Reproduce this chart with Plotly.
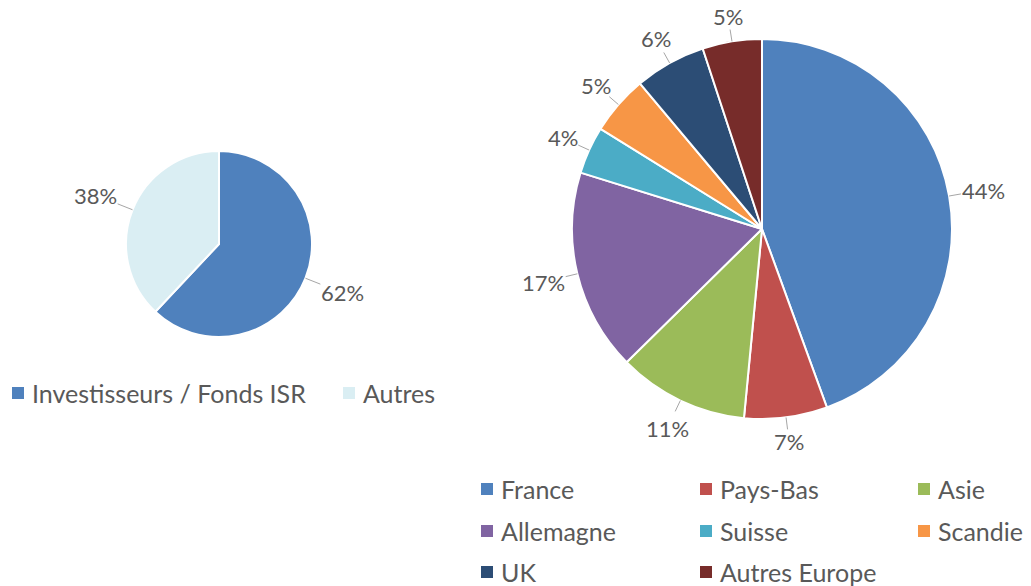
import math
import plotly.graph_objects as go

W, H = 1031, 586

# ---- data ----
left_labels = ["Investisseurs / Fonds ISR", "Autres"]
left_values = [62, 38]
left_colors = ["#4F81BD", "#DAEEF3"]

right_labels = ["France", "Pays-Bas", "Asie", "Allemagne", "Suisse", "Scandie", "UK", "Autres Europe"]
right_values = [44, 7, 11, 17, 4, 5, 6, 5]
right_colors = ["#4F81BD", "#C0504D", "#9BBB59", "#8064A2", "#4BACC6", "#F79646", "#2C4D75", "#772C2A"]

FONT = "Lato"
TXT = "#595959"
LINE = "#A6A6A6"


def fx(x):
    return x / W


def fy(y):
    return 1 - y / H


fig = go.Figure()
shapes = []
annotations = []


def add_pie(labels, values, colors, cx, cy, r, gap=12, fsize=22):
    fig.add_trace(go.Pie(
        labels=labels, values=values, sort=False, direction="clockwise", rotation=0,
        marker=dict(colors=colors, line=dict(color="white", width=2)),
        textinfo="none", hoverinfo="label+percent", showlegend=False,
        domain=dict(x=[fx(cx - r), fx(cx + r)], y=[fy(cy + r), fy(cy - r)]),
    ))
    total = sum(values)
    cum = 0
    for v in values:
        mid = (cum + v / 2) / total * 2 * math.pi
        cum += v
        dx, dy = math.sin(mid), -math.cos(mid)
        txt = f"{round(v / total * 100)}%"
        bw, bh = 14 * len(txt), 22
        support = abs(dx) * bw / 2 + abs(dy) * bh / 2
        dist = r + gap + support
        x0, y0 = cx + r * dx, cy + r * dy
        x1, y1 = cx + (r + gap) * dx, cy + (r + gap) * dy
        shapes.append(dict(type="line", xref="paper", yref="paper",
                           x0=fx(x0), y0=fy(y0), x1=fx(x1), y1=fy(y1),
                           line=dict(color=LINE, width=1)))
        tx, ty = cx + dist * dx, cy + dist * dy
        annotations.append(dict(x=fx(tx), y=fy(ty), xref="paper", yref="paper",
                                text=txt, showarrow=False,
                                xanchor="center", yanchor="middle",
                                font=dict(family=FONT, size=fsize, color=TXT)))


def add_legend(labels, colors, positions, size=12, fsize=25):
    for lab, col, (sx, sy) in zip(labels, colors, positions):
        shapes.append(dict(type="rect", xref="paper", yref="paper",
                           x0=fx(sx), x1=fx(sx + size), y0=fy(sy + size / 2), y1=fy(sy - size / 2),
                           fillcolor=col, line=dict(width=0)))
        annotations.append(dict(x=fx(sx + size + 6), y=fy(sy), xref="paper", yref="paper",
                                text=lab, showarrow=False, xanchor="left", yanchor="middle",
                                font=dict(family=FONT, size=fsize, color=TXT)))


add_pie(left_labels, left_values, left_colors, 219, 244, 93, gap=16)
add_pie(right_labels, right_values, right_colors, 762, 229, 190)

add_legend(left_labels, left_colors, [(12, 393), (343, 393)])
cols = [481, 700, 918]
rows = [489, 531, 572]
right_pos = [(cols[i % 3], rows[i // 3]) for i in range(len(right_labels))]
add_legend(right_labels, right_colors, right_pos)

fig.update_layout(
    width=W, height=H, margin=dict(l=0, r=0, t=0, b=0),
    paper_bgcolor="white", plot_bgcolor="white",
    shapes=shapes, annotations=annotations, showlegend=False,
)
fig.write_html("out.html", config={"displayModeBar": False},
               post_script="document.body.style.margin='0';document.body.style.overflow='hidden';")
